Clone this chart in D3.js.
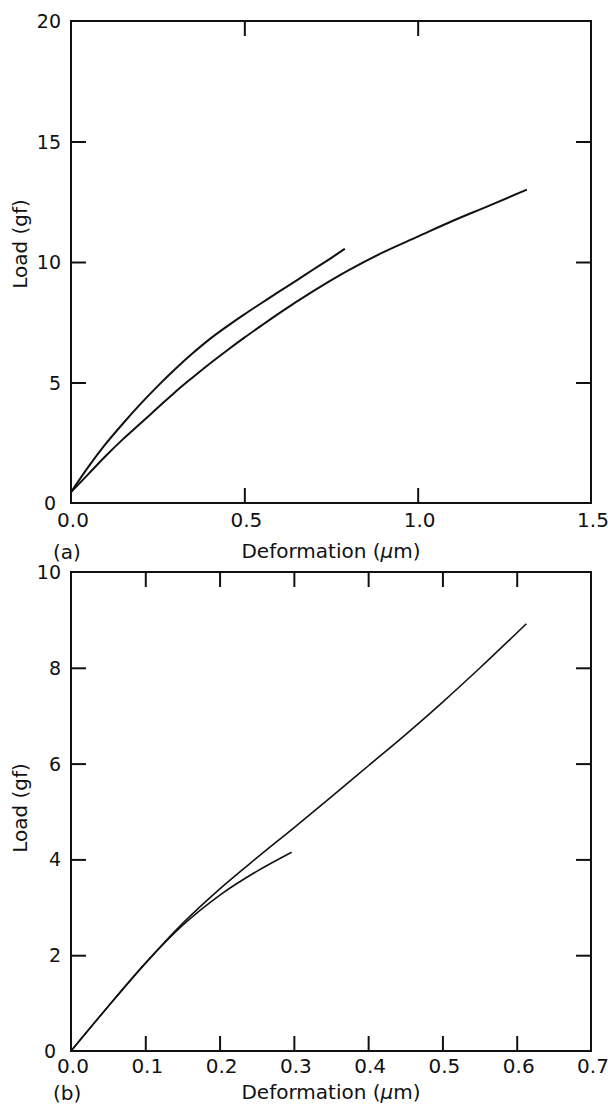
<!DOCTYPE html>
<html>
<head>
<meta charset="utf-8">
<script src="https://cdn.jsdelivr.net/npm/d3@7"></script>
<style>
  body { margin: 0; background: #fff; }
  svg { display: block; }
  text { font-family: "DejaVu Sans", "Liberation Sans", Arial, sans-serif; fill: #111; }
</style>
</head>
<body>
<div id="chart"></div>
<script>
// data
const TOP_X_TICKS = [0, 0.5, 1.0, 1.5];
const TOP_Y_TICKS = [0, 5, 10, 15, 20];
const BOT_X_TICKS = [0, 0.1, 0.2, 0.3, 0.4, 0.5, 0.6, 0.7];
const BOT_Y_TICKS = [0, 2, 4, 6, 8, 10];

// panel (a): two loading curves
const A1_X = [0, 0.05, 0.1, 0.15, 0.2, 0.25, 0.3, 0.35, 0.4, 0.45, 0.5, 0.55, 0.6, 0.65, 0.7, 0.75, 0.79];
const A1_Y = [0.45, 1.5, 2.45, 3.3, 4.1, 4.85, 5.55, 6.2, 6.8, 7.33, 7.83, 8.3, 8.77, 9.23, 9.7, 10.16, 10.55];
const A2_X = [0, 0.05, 0.1, 0.15, 0.2, 0.25, 0.3, 0.35, 0.4, 0.45, 0.5, 0.55, 0.6, 0.7, 0.8, 0.9, 1.0, 1.1, 1.2, 1.315];
const A2_Y = [0.45, 1.2, 1.95, 2.65, 3.3, 3.95, 4.6, 5.2, 5.78, 6.33, 6.86, 7.37, 7.87, 8.8, 9.65, 10.4, 11.05, 11.7, 12.3, 13.0];

// panel (b): short curve and long line
const B1_X = [0, 0.05, 0.1, 0.15, 0.2, 0.25, 0.297];
const B1_Y = [0, 0.93, 1.83, 2.62, 3.25, 3.75, 4.15];
const B2_X = [0, 0.05, 0.1, 0.15, 0.2, 0.25, 0.3, 0.35, 0.4, 0.45, 0.5, 0.55, 0.613];
const B2_Y = [0, 0.93, 1.83, 2.66, 3.38, 4.03, 4.66, 5.3, 5.95, 6.6, 7.28, 7.99, 8.92];

const WIDTH = 608;
const HEIGHT = 1106;
const TICK = 15;

const svg = d3.select('#chart')
    .append('svg')
        .attr('width', WIDTH)
        .attr('height', HEIGHT);

svg.append('rect')
    .attr('width', WIDTH)
    .attr('height', HEIGHT)
    .attr('fill', '#fff');

function zip(xs, ys) {
    return xs.map((x, i) => [x, ys[i]]);
}

function panel(opts) {
    const X = d3.scaleLinear().domain(opts.xDomain).range([opts.left, opts.right]);
    const Y = d3.scaleLinear().domain(opts.yDomain).range([opts.bottom, opts.top]);
    const g = svg.append('g');

    // frame
    g.append('rect')
        .attr('x', opts.left)
        .attr('y', opts.top)
        .attr('width', opts.right - opts.left)
        .attr('height', opts.bottom - opts.top)
        .attr('fill', 'none')
        .attr('stroke', '#111')
        .attr('stroke-width', 2);

    const inner = (v, dom) => v > dom[0] && v < dom[1];

    // inward ticks on all four sides
    const xIn = opts.xTicks.filter(v => inner(v, opts.xDomain));
    const yIn = opts.yTicks.filter(v => inner(v, opts.yDomain));

    const axes = [
        [d3.axisBottom(X).tickValues(xIn), 'translate(0,' + opts.bottom + ')'],
        [d3.axisTop(X).tickValues(xIn), 'translate(0,' + opts.top + ')'],
        [d3.axisLeft(Y).tickValues(yIn), 'translate(' + opts.left + ',0)'],
        [d3.axisRight(Y).tickValues(yIn), 'translate(' + opts.right + ',0)']
    ];
    axes.forEach(([ax, tr]) => {
        const a = g.append('g')
            .attr('transform', tr)
            .call(ax.tickSizeInner(-TICK).tickSizeOuter(0).tickFormat(''));
        a.select('.domain').remove();
        a.selectAll('line').attr('stroke', '#111').attr('stroke-width', 2);
    });

    // tick labels
    g.selectAll('.xlab')
        .data(opts.xTicks)
        .enter()
        .append('text')
        .attr('x', d => X(d) + 2)
        .attr('y', opts.bottom + opts.tickDy)
        .attr('text-anchor', 'middle')
        .attr('font-size', '20px')
        .text(d => d.toFixed(1));

    g.selectAll('.ylab')
        .data(opts.yTicks)
        .enter()
        .append('text')
        .attr('x', d => d === 0 ? opts.left - 15 : opts.left - 10)
        .attr('y', d => Y(d) + 7)
        .attr('text-anchor', 'end')
        .attr('font-size', '19px')
        .text(d => d);

    // axis titles
    const xt = g.append('text')
        .attr('x', (opts.left + opts.right) / 2)
        .attr('y', opts.bottom + opts.titleDy)
        .attr('text-anchor', 'middle')
        .attr('font-size', '20px');
    xt.append('tspan').text('Deformation (');
    xt.append('tspan').attr('font-style', 'italic').text('\u03bc');
    xt.append('tspan').text('m)');

    g.append('text')
        .attr('transform', 'translate(27,' + opts.yTitle + ') rotate(-90)')
        .attr('text-anchor', 'middle')
        .attr('font-size', '20px')
        .text('Load (gf)');

    g.append('text')
        .attr('x', 53)
        .attr('y', opts.bottom + opts.titleDy + 1)
        .attr('font-size', '20px')
        .text(opts.tag);

    const line = d3.line()
        .x(d => X(d[0]))
        .y(d => Y(d[1]))
        .curve(d3.curveMonotoneX);

    opts.series.forEach(s => {
        g.append('path')
            .attr('d', line(s))
            .attr('fill', 'none')
            .attr('stroke', '#111')
            .attr('stroke-width', opts.lineWidth);
    });
}

panel({
    left: 71, right: 591, top: 21, bottom: 503,
    xDomain: [0, 1.5], yDomain: [0, 20],
    xTicks: TOP_X_TICKS, yTicks: TOP_Y_TICKS,
    tickDy: 24, titleDy: 55,
    yTitle: 244, tag: '(a)',
    lineWidth: 2,
    series: [zip(A1_X, A1_Y), zip(A2_X, A2_Y)]
});

panel({
    left: 71, right: 591, top: 572, bottom: 1051,
    xDomain: [0, 0.7], yDomain: [0, 10],
    xTicks: BOT_X_TICKS, yTicks: BOT_Y_TICKS,
    tickDy: 22, titleDy: 48,
    yTitle: 808, tag: '(b)',
    lineWidth: 1.6,
    series: [zip(B1_X, B1_Y), zip(B2_X, B2_Y)]
});
</script>
</body>
</html>
